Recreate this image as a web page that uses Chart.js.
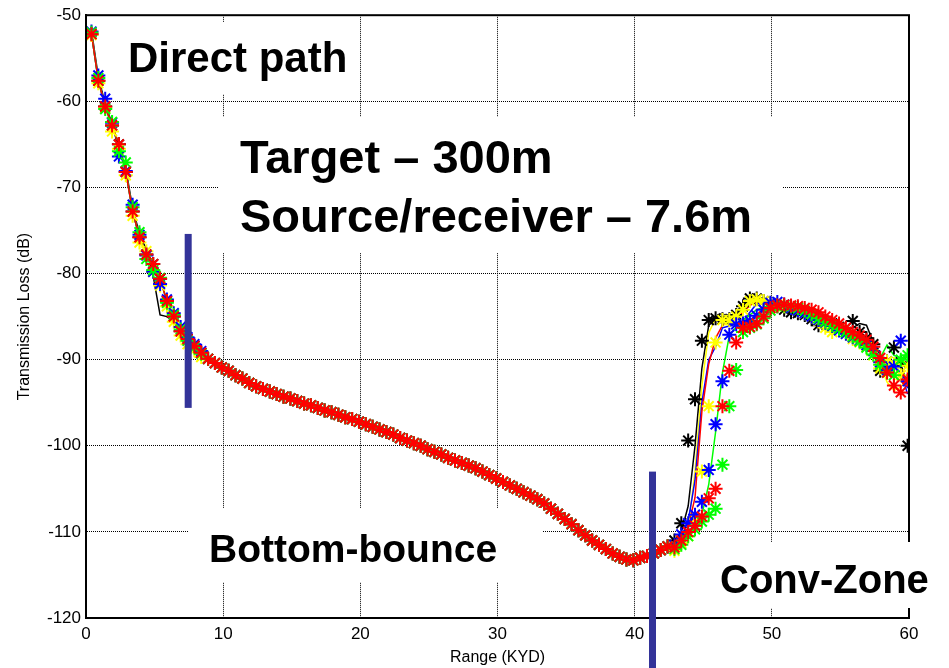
<!DOCTYPE html>
<html>
<head>
<meta charset="utf-8">
<script src="https://cdn.jsdelivr.net/npm/chart.js@4.4.1/dist/chart.umd.min.js"></script>
<style>
  html, body { margin: 0; padding: 0; background: #fff; }
  canvas { display: block; }
</style>
</head>
<body>
<canvas id="tlChart" width="949" height="668"></canvas>
<script>
// range samples (KYD), one star / vertex every half KYD
const rangeKyd = [
  0.4, 0.9, 1.4, 1.9, 2.4, 2.9, 3.4, 3.9, 4.4, 4.9, 5.4, 5.9, 6.4, 6.9, 7.4, 7.9, 8.4,
  8.9, 9.4, 9.9, 10.4, 10.9, 11.4, 11.9, 12.4, 12.9, 13.4, 13.9, 14.4, 14.9, 15.4, 15.9, 16.4,
  16.9, 17.4, 17.9, 18.4, 18.9, 19.4, 19.9, 20.4, 20.9, 21.4, 21.9, 22.4, 22.9, 23.4, 23.9, 24.4,
  24.9, 25.4, 25.9, 26.4, 26.9, 27.4, 27.9, 28.4, 28.9, 29.4, 29.9, 30.4, 30.9, 31.4, 31.9, 32.4,
  32.9, 33.4, 33.9, 34.4, 34.9, 35.4, 35.9, 36.4, 36.9, 37.4, 37.9, 38.4, 38.9, 39.4, 39.9, 40.4,
  40.9, 41.4, 41.9, 42.4,
  42.9, 43.4, 43.9, 44.4, 44.9, 45.4, 45.9, 46.4, 46.9, 47.4, 47.9, 48.4, 48.9, 49.4, 49.9, 50.4,
  50.9, 51.4, 51.9, 52.4, 52.9, 53.4, 53.9, 54.4, 54.9, 55.4, 55.9, 56.4, 56.9, 57.4, 57.9, 58.4,
  58.9, 59.4, 59.9
];

// direct path + bottom bounce part, all runs agree here (0.4 .. 42.4 KYD)
const commonLoss = [
  -52.2, -57.6, -60.6, -62.8, -65.0, -68.2, -72.8, -75.8, -77.8, -78.9, -80.6, -83.2, -85.0, -86.7, -87.6, -88.4, -89.2,
  -89.9, -90.4, -90.9, -91.3, -91.8, -92.2, -92.7, -93.1, -93.4, -93.7,
  -94.0, -94.3, -94.5, -94.8, -95.1, -95.3, -95.6, -95.9, -96.1, -96.4,
  -96.7, -96.9, -97.2, -97.5, -97.8, -98.1, -98.4, -98.7, -99.1, -99.4,
  -99.7, -100.0, -100.4, -100.7, -101.0, -101.4, -101.7, -102.0, -102.3, -102.6,
  -103.0, -103.4, -103.8, -104.2, -104.6, -105.0, -105.4, -105.8, -106.2, -106.7,
  -107.3, -107.9, -108.5, -109.1, -109.8, -110.4, -111.0, -111.5, -112.0, -112.5,
  -112.9, -113.2, -113.3, -113.0, -112.8, -112.5, -112.1, -111.7
];

// direct path stars that stand apart from the red run (0.4 .. 8.4 KYD)
const blueStarHead = [-51.9, -57.0, -59.7, -62.5, -66.4, -68.1, -72.0, -75.5, -77.9, -79.8, -81.2, -83.0, -84.6, -86.2, -87.4, -88.2, -89.0];
const greenStarHead = [-52.0, -57.3, -60.9, -62.4, -65.8, -67.1, -72.3, -75.2, -78.3, -79.6, -80.5, -83.4, -84.8, -86.5, -87.8, -88.6, -89.3];
const yellowStarHead = [-52.3, -57.9, -60.8, -63.5, -65.5, -68.6, -73.3, -76.4, -77.4, -79.8, -81.4, -83.8, -85.6, -87.2, -88.2, -88.9, -89.7];

// black model line has its own kink near 5 KYD (0.4 .. 8.4 KYD)
const blackLineHead = [-51.8, -57.2, -60.3, -62.6, -65.6, -67.8, -72.4, -75.4, -77.2, -80.3, -84.8, -85.0, -85.6, -86.8, -87.8, -88.6, -89.4];

// convergence zone part (42.9 .. 59.9 KYD), stars
const blackStarTail = [-111.0, -109.0, -99.4, -94.6, -87.8, -85.4, -85.2, -85.3, -85.3, -84.8, -83.8, -82.9, -82.9, -83.2, -83.5, -83.8, -84.2, -84.5, -84.6, -84.8, -85.3, -86.0, -85.6, -85.8, -86.2, -86.8, -85.5, -86.8, -87.5, -88.2, -91.3, -90.2, -88.6, -90.3, -100.0];
const blueStarTail = [-111.5, -110.3, -109.0, -108.0, -106.5, -102.8, -97.5, -92.5, -87.1, -85.9, -85.8, -85.5, -84.9, -84.2, -83.4, -83.3, -83.6, -84.0, -84.3, -84.6, -85.0, -85.4, -85.7, -86.1, -86.6, -87.0, -87.4, -87.8, -88.3, -89.0, -90.3, -91.2, -90.8, -87.8, -92.5];
const redStarTail = [-111.8, -111.0, -110.0, -109.3, -108.2, -106.1, -105.0, -95.4, -91.3, -88.0, -86.3, -86.2, -85.8, -85.0, -84.0, -83.7, -83.6, -83.7, -83.8, -84.0, -84.2, -84.5, -85.0, -85.4, -85.8, -86.3, -86.8, -87.2, -87.7, -88.5, -89.8, -91.5, -93.0, -93.8, -92.3];
const yellowStarTail = [-112.2, -111.3, -110.5, -108.5, -103.0, -95.4, -88.0, -85.4, -85.4, -85.0, -84.2, -83.2, -83.0, -83.2, -83.4, -83.6, -83.8, -84.0, -84.3, -84.6, -85.0, -85.5, -86.3, -86.8, -86.5, -87.0, -87.6, -88.0, -88.5, -89.5, -91.0, -90.2, -90.5, -91.8, -90.7];
const greenStarTail = [-112.0, -111.5, -110.5, -109.7, -108.8, -108.0, -107.3, -102.2, -95.4, -91.2, -86.8, -86.3, -85.9, -85.2, -84.3, -83.8, -83.7, -83.8, -84.0, -84.3, -84.7, -85.2, -85.6, -86.0, -86.4, -86.8, -87.3, -87.9, -88.6, -89.4, -90.6, -91.5, -91.8, -90.0, -89.5];

// convergence zone part (42.9 .. 59.9 KYD), lines
const blackLineTail = [-111.2, -110.0, -107.0, -100.0, -91.0, -86.0, -85.4, -85.4, -85.2, -84.5, -83.5, -82.8, -82.9, -83.2, -83.5, -83.8, -84.1, -84.4, -84.6, -84.8, -85.1, -85.4, -85.7, -85.9, -86.2, -86.5, -86.3, -85.8, -86.0, -88.0, -89.4, -90.2, -91.0, -90.5, -93.0];
const blueLineTail = [-111.5, -110.5, -108.8, -104.0, -95.0, -90.0, -88.5, -86.3, -86.1, -86.0, -85.5, -84.5, -83.5, -83.3, -83.4, -83.6, -83.9, -84.2, -84.4, -84.7, -85.0, -85.4, -85.8, -86.2, -86.6, -87.0, -87.4, -87.8, -88.2, -88.8, -89.6, -90.4, -90.8, -91.5, -94.0];
const redLineTail = [-111.6, -110.8, -109.5, -106.0, -96.0, -90.5, -87.5, -86.0, -85.6, -85.2, -84.5, -83.7, -83.3, -83.3, -83.5, -83.6, -83.7, -83.9, -84.1, -84.3, -84.6, -85.0, -85.4, -85.8, -86.2, -86.6, -87.0, -87.5, -88.0, -88.8, -90.0, -91.0, -91.8, -92.5, -93.2];
const yellowLineTail = [-112.0, -111.0, -109.5, -103.0, -93.0, -86.9, -85.2, -85.3, -85.3, -85.0, -84.2, -83.3, -83.0, -83.2, -83.4, -83.6, -83.8, -84.0, -84.3, -84.6, -85.0, -85.4, -85.8, -86.2, -86.6, -87.0, -87.5, -88.0, -88.6, -89.4, -90.5, -92.6, -93.6, -93.2, -92.0];
const greenLineTail = [-111.8, -111.2, -110.3, -109.2, -108.0, -104.5, -98.4, -91.5, -87.2, -86.2, -85.5, -84.8, -84.2, -83.9, -83.8, -83.8, -83.9, -84.0, -84.2, -84.5, -84.8, -85.2, -85.6, -86.0, -86.4, -86.8, -87.3, -87.8, -88.4, -89.2, -89.8, -88.3, -89.5, -89.8, -90.0];

// blue region separators: range, top and bottom loss
const separatorRange = [7.45, 41.3];
const separatorTop = [-75.4, -103.0];
const separatorBottom = [-95.6, -126.0];

const xTicks = [0, 10, 20, 30, 40, 50, 60];
const yTicks = [-120, -110, -100, -90, -80, -70, -60, -50];

function toPoints(values) {
  return values.map((v, i) => ({ x: rangeKyd[i], y: v }));
}

function starSet(color, head, tail) {
  return {
    data: toPoints(head.concat(commonLoss.slice(head.length), tail)),
    showLine: false,
    pointStyle: 'star',
    pointRadius: 7,
    pointBorderWidth: 2,
    borderColor: color,
    backgroundColor: color
  };
}

function lineSet(color, head, tail) {
  return {
    data: toPoints(head.concat(commonLoss.slice(head.length), tail)),
    showLine: true,
    pointRadius: 0,
    borderWidth: 1.5,
    borderColor: color,
    backgroundColor: color,
    tension: 0
  };
}

const FONT = '"Liberation Sans", Arial, sans-serif';

const notesPlugin = {
  id: 'notes',
  afterDraw(chart) {
    const { ctx, chartArea: a, scales: { x, y } } = chart;
    ctx.save();

    // MATLAB style box round the axes
    ctx.strokeStyle = '#000';
    ctx.lineWidth = 2;
    ctx.strokeRect(a.left, a.top, a.right - a.left, a.bottom - a.top);

    // region separators
    ctx.fillStyle = '#333399';
    separatorRange.forEach((r, i) => {
      const px = x.getPixelForValue(r);
      const top = y.getPixelForValue(separatorTop[i]);
      const bottom = y.getPixelForValue(separatorBottom[i]);
      ctx.fillRect(px - 3.5, top, 7, bottom - top);
    });

    // text boxes
    const notes = [
      { box: [116, 22, 360, 94], size: 42, lines: [['Direct path', 128, 72]] },
      { box: [219, 117, 782, 253], size: 47, lines: [['Target \u2013 300m', 240, 173], ['Source/receiver \u2013 7.6m', 240, 232]] },
      { box: [188, 508, 542, 582], size: 39, lines: [['Bottom-bounce', 209, 562]] },
      { box: [705, 542, 949, 608], size: 40, lines: [['Conv-Zone', 720, 593]] }
    ];
    notes.forEach(n => {
      ctx.fillStyle = '#fff';
      ctx.fillRect(n.box[0], n.box[1], n.box[2] - n.box[0], n.box[3] - n.box[1]);
      ctx.fillStyle = '#000';
      ctx.font = 'bold ' + n.size + 'px ' + FONT;
      ctx.textAlign = 'left';
      ctx.textBaseline = 'alphabetic';
      n.lines.forEach(l => ctx.fillText(l[0], l[1], l[2]));
    });
    ctx.restore();
  }
};

new Chart(document.getElementById('tlChart'), {
  type: 'scatter',
  data: {
    datasets: [
      starSet('#ff0000', [], redStarTail),
      starSet('#00ff00', greenStarHead, greenStarTail),
      starSet('#0000ff', blueStarHead, blueStarTail),
      starSet('#ffff00', yellowStarHead, yellowStarTail),
      starSet('#000000', [], blackStarTail),
      lineSet('#ff0000', [], redLineTail),
      lineSet('#00ff00', [], greenLineTail),
      lineSet('#0000ff', [], blueLineTail),
      lineSet('#ffff00', [], yellowLineTail),
      lineSet('#000000', blackLineHead, blackLineTail)
    ]
  },
  options: {
    responsive: false,
    animation: false,
    layout: { padding: { left: 0, right: 40, top: 9, bottom: 0 } },
    plugins: { legend: { display: false }, tooltip: { enabled: false } },
    scales: {
      x: {
        type: 'linear',
        min: 0,
        max: 60,
        afterBuildTicks: s => { s.ticks = xTicks.map(v => ({ value: v })); },
        afterFit: s => { s.height = 50; },
        ticks: { color: '#000', font: { family: FONT, size: 17 }, padding: 6, maxRotation: 0 },
        grid: { color: '#000', lineWidth: 1, drawTicks: false },
        border: { color: '#000', width: 2, dash: [1, 1] },
        title: { display: true, text: 'Range (KYD)', color: '#000', font: { family: FONT, size: 16 }, padding: { top: 0, bottom: 1 } }
      },
      y: {
        type: 'linear',
        min: -120,
        max: -50,
        afterBuildTicks: s => { s.ticks = yTicks.map(v => ({ value: v })); },
        afterFit: s => { s.width = 86; },
        ticks: { color: '#000', font: { family: FONT, size: 17 }, padding: 5 },
        grid: { color: '#000', lineWidth: 1, drawTicks: false },
        border: { color: '#000', width: 2, dash: [1, 1] },
        title: { display: true, text: 'Transmission Loss (dB)', color: '#000', font: { family: FONT, size: 16 }, padding: { top: 15, bottom: 0 } }
      }
    }
  },
  plugins: [notesPlugin]
});
</script>
</body>
</html>
